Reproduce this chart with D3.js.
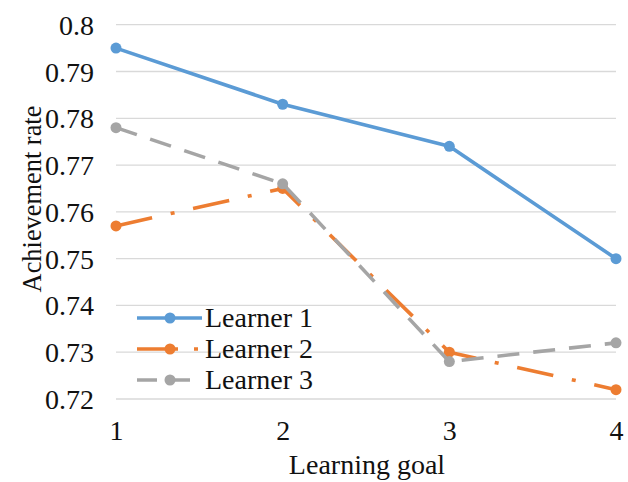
<!DOCTYPE html>
<html>
<head>
<meta charset="utf-8">
<script src="https://cdn.jsdelivr.net/npm/d3@7"></script>
<style>
  html, body { margin: 0; padding: 0; background: #fff; }
  svg text { font-family: "Liberation Serif", "Tinos", "Times New Roman", serif !important; }
</style>
</head>
<body>
<svg id="chart" width="628" height="482"></svg>
<script>
const categories = ["1", "2", "3", "4"];
const learner1 = [0.795, 0.783, 0.774, 0.750];
const learner2 = [0.757, 0.765, 0.730, 0.722];
const learner3 = [0.778, 0.766, 0.728, 0.732];
const yTicks = [0.72, 0.73, 0.74, 0.75, 0.76, 0.77, 0.78, 0.79, 0.8];
const seriesNames = ["Learner 1", "Learner 2", "Learner 3"];
const seriesColors = ["#5B9BD5", "#ED7D31", "#A5A5A5"];
const seriesDash = [null, "37,19,4,19", "22,14"];
const legendDash = [null, "41,16,4,30", "20,13"];

const series = [learner1, learner2, learner3].map((vals, i) => ({
  name: seriesNames[i], values: vals, color: seriesColors[i], dash: seriesDash[i], ldash: legendDash[i]
}));

const textColor = "#111";
const fs = 28;
const svg = d3.select("#chart");
const x = d3.scalePoint().domain(categories).range([116, 616]);
const y = d3.scaleLinear().domain([0.72, 0.8]).range([399, 24.7]);

// gridlines
svg.append("g").selectAll("line").data(yTicks).join("line")
  .attr("x1", x.range()[0]).attr("x2", x.range()[1])
  .attr("y1", d => y(d)).attr("y2", d => y(d))
  .attr("stroke", "#D9D9D9").attr("stroke-width", 1.3);

// y axis labels
const yAxis = d3.axisLeft(y).tickValues(yTicks).tickSize(0).tickPadding(0)
  .tickFormat(d => String(+d.toFixed(2)));
const gy = svg.append("g").attr("transform", "translate(94,0)").call(yAxis);
gy.select(".domain").remove();
gy.selectAll("text").attr("font-size", fs).attr("fill", textColor).attr("dy", "0.34em");

// x axis labels
const xAxis = d3.axisBottom(x).tickSize(0).tickPadding(0);
const gx = svg.append("g").attr("transform", "translate(0,420)").call(xAxis);
gx.select(".domain").remove();
gx.selectAll("text").attr("font-size", fs).attr("fill", textColor).attr("dy", "0.71em");

// axis titles
svg.append("text").attr("x", (x.range()[0] + x.range()[1]) / 2 + 1).attr("y", 474)
  .attr("text-anchor", "middle").attr("font-size", fs).attr("fill", textColor)
  .text("Learning goal");
svg.append("text").attr("transform", "translate(41,199) rotate(-90)")
  .attr("text-anchor", "middle").attr("font-size", 26.4).attr("fill", textColor)
  .text("Achievement rate");

// lines
const line = d3.line().x((d, i) => x(categories[i])).y(d => y(d));
const gs = svg.append("g").selectAll("g").data(series).join("g");
gs.append("path").attr("d", d => line(d.values))
  .attr("fill", "none").attr("stroke", d => d.color).attr("stroke-width", 3.6)
  .attr("stroke-dasharray", d => d.dash).attr("stroke-linejoin", "round");
gs.selectAll("circle").data(d => d.values.map((v, i) => ({v, i, color: d.color}))).join("circle")
  .attr("cx", d => x(categories[d.i])).attr("cy", d => y(d.v)).attr("r", 5.5)
  .attr("fill", d => d.color);

// legend
const legendY = [318, 349, 380];
const lg = svg.append("g").selectAll("g").data(series).join("g")
  .attr("transform", (d, i) => `translate(0,${legendY[i]})`);
lg.append("line").attr("x1", 137).attr("x2", 202).attr("y1", 0).attr("y2", 0)
  .attr("stroke", d => d.color).attr("stroke-width", 3.6)
  .attr("stroke-dasharray", d => d.ldash);
lg.append("circle").attr("cx", 170).attr("cy", 0).attr("r", 5.5).attr("fill", d => d.color);
lg.append("text").attr("x", 205).attr("y", 0).attr("dy", "0.33em")
  .attr("font-size", fs).attr("fill", textColor).text(d => d.name);
</script>
</body>
</html>
